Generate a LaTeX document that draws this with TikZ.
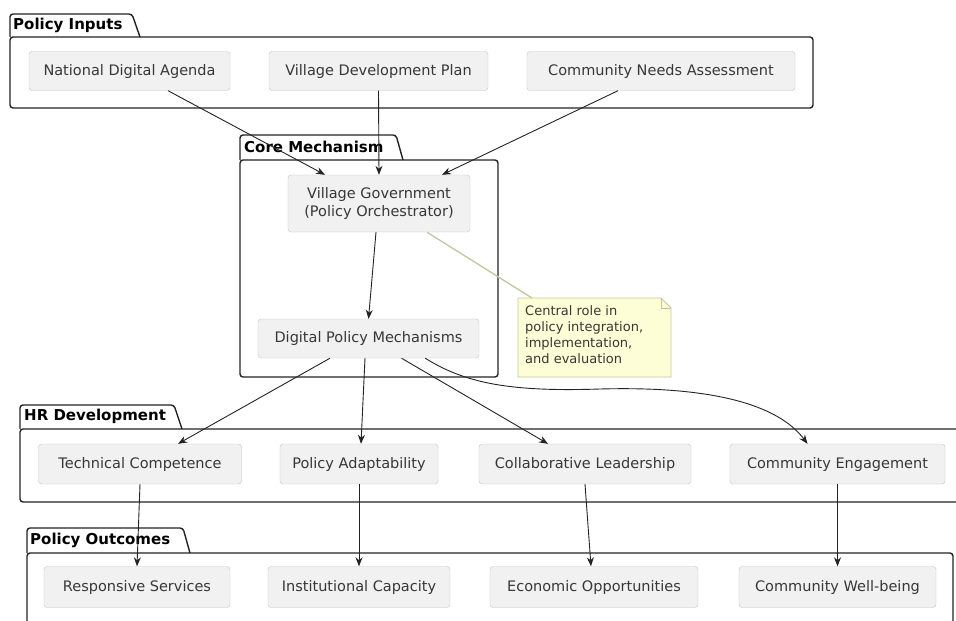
\documentclass[tikz,border=0pt]{standalone}
\usepackage{fontspec}
\setmainfont{DejaVu Sans}
\usetikzlibrary{arrows.meta}
\definecolor{boxfill}{RGB}{241,241,241}
\definecolor{boxline}{RGB}{195,195,195}
\definecolor{boxtext}{RGB}{55,55,55}
\definecolor{pkgline}{RGB}{35,35,35}
\definecolor{arrcol}{RGB}{35,35,35}
\definecolor{notefill}{RGB}{254,254,214}
\definecolor{noteline}{RGB}{196,196,160}
\tikzset{every picture/.style={x=1pt,y=-1pt}}
\tikzset{box/.style={draw=boxline,fill=boxfill,rounded corners=3pt,text=boxtext,minimum height=39,inner sep=0pt,font=\fontsize{14.5}{18}\selectfont}}
\tikzset{pkg/.style={draw=pkgline,line width=1.4pt,rounded corners=3pt}}
\tikzset{pkgtitle/.style={anchor=west,inner sep=0pt,font=\bfseries\fontsize{15}{18}\selectfont}}
\tikzset{edge/.style={arrcol,line width=0.9pt,-{Stealth[length=9pt,width=7pt]}}}
\tikzset{notelink/.style={noteline,line width=1.3pt}}
\tikzset{notetext/.style={anchor=north west,inner sep=0pt,align=left,text=boxtext,font=\fontsize{13}{16}\selectfont}}

\begin{document}
\begin{tikzpicture}
\useasboundingbox (0,0) rectangle (956,621);
\clip (0,0) rectangle (956,621);

\draw [pkg,fill=white] (10,37) -- (10,14) -- (132,14) -- (140,37);
\draw [pkg] (10,37) rectangle (813,108);
\node [pkgtitle] (pin) at (13,25.5) {Policy Inputs};

\draw [pkg,fill=white] (240,160) -- (240,135) -- (396,135) -- (403,160);
\draw [pkg] (240,160) rectangle (498,377);
\node [pkgtitle] (core) at (244,147) {Core Mechanism};

\draw [pkg,fill=white] (20,429) -- (20,405) -- (174,405) -- (182,429);
\draw [pkg] (20,429) rectangle (975,502);
\node [pkgtitle] (hrd) at (24,416.5) {HR Development};

\draw [pkg,fill=white] (27,553) -- (27,528) -- (183,528) -- (190,553);
\draw [pkg] (27,553) rectangle (953,640);
\node [pkgtitle] (pout) at (30,540) {Policy Outcomes};

\node [box,minimum width=201] (nda) at (129.5,71) {National Digital Agenda};
\node [box,minimum width=219] (vdp) at (378.5,71) {Village Development Plan};
\node [box,minimum width=268] (cna) at (661,71) {Community Needs Assessment};

\node [box,minimum width=182,minimum height=57,align=center] (vg) at (379,203.5) {Village Government\\(Policy Orchestrator)};
\node [box,minimum width=221] (dpm) at (368.5,338.5) {Digital Policy Mechanisms};

\node [box,minimum width=203,minimum height=40] (tc) at (140,464) {Technical Competence};
\node [box,minimum width=158,minimum height=40] (pa) at (359,464) {Policy Adaptability};
\node [box,minimum width=212,minimum height=40] (cl) at (585,464) {Collaborative Leadership};
\node [box,minimum width=215,minimum height=40] (ce) at (837.5,464) {Community Engagement};

\node [box,minimum width=186,minimum height=41] (rs) at (137,587) {Responsive Services};
\node [box,minimum width=182,minimum height=41] (ic) at (359,587) {Institutional Capacity};
\node [box,minimum width=208,minimum height=41] (eo) at (594,587) {Economic Opportunities};
\node [box,minimum width=197,minimum height=41] (cwb) at (837.5,587) {Community Well-being};

\filldraw [fill=notefill,draw=noteline,line width=0.9pt] (518,298) -- (661,298) -- (671,308) -- (671,377) -- (518,377) -- cycle;
\draw [noteline,line width=0.9pt] (661,298) -- (661,308) -- (671,308);
\node [notetext] (note) at (525,305) {Central role in\\policy integration,\\implementation,\\and evaluation};
\coordinate (notetop) at (532,298);
\draw [notelink] ([xshift=48pt]vg.south) -- (notetop);

\draw [edge] ([xshift=38.5pt]nda.south) -- ([xshift=-54pt]vg.north);
\draw [edge] (vdp.south) -- (vg.north);
\draw [edge] ([xshift=-43pt]cna.south) -- ([xshift=63pt]vg.north);

\draw [edge] ([xshift=-3pt]vg.south) -- (dpm.north);

\draw [edge] ([xshift=-38.5pt]dpm.south) -- ([xshift=38pt]tc.north);
\draw [edge] ([xshift=-3.5pt]dpm.south) -- ([xshift=2pt]pa.north);
\draw [edge] ([xshift=33pt]dpm.south) -- ([xshift=-37pt]cl.north);
\coordinate (bend) at (600,389);
\draw [edge] ([xshift=-54pt]dpm.south east) .. controls +(40,25) and +(-90,3) .. (bend) .. controls +(110,-3) and +(-30,-40) .. ([xshift=-30pt]ce.north);

\draw [edge] (tc.south) -- (rs.north);
\draw [edge] (pa.south) -- (ic.north);
\draw [edge] (cl.south) -- ([xshift=-3pt]eo.north);
\draw [edge] (ce.south) -- (cwb.north);
\end{tikzpicture}
\end{document}
